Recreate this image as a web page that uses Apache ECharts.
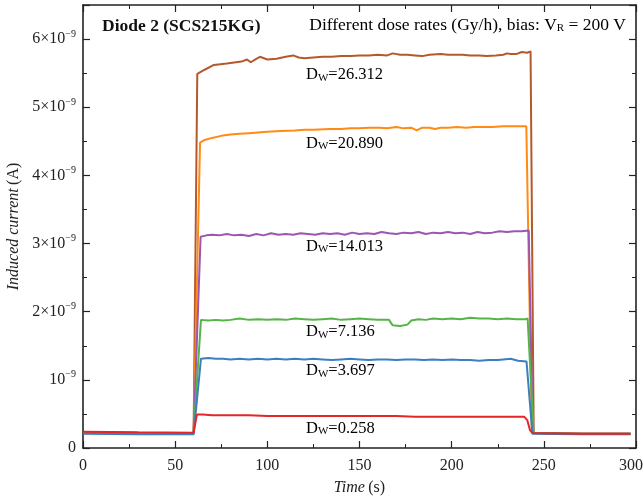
<!DOCTYPE html>
<html>
<head>
<meta charset="utf-8">
<script src="https://cdn.jsdelivr.net/npm/echarts@6/dist/echarts.min.js"></script>
<style>
  html, body { margin: 0; padding: 0; background: #fff; }
  #chart { width: 643px; height: 501px; }
</style>
</head>
<body>
<div id="chart"></div>
<script>
// Induced current (in units of 1e-9 A) versus time (s) for each dose rate D_W (Gy/h)
const doseRates = ['26.312', '20.890', '14.013', '7.136', '3.697', '0.258'];
const colors = ['#b3592b', '#ff8a14', '#9b55b2', '#55b447', '#3c7ec1', '#e4262b'];

const dw26312 = [[0,0.23],[30,0.22],[60,0.22],[62,5.49],[66,5.55],[71,5.62],[78,5.64],[86,5.67],[89,5.70],[91,5.66],[94,5.71],[96,5.74],[100,5.70],[105,5.71],[110,5.74],[114,5.76],[117,5.73],[120,5.72],[125,5.73],[130,5.74],[135,5.74],[140,5.75],[145,5.75],[150,5.76],[155,5.76],[160,5.77],[165,5.76],[168,5.79],[172,5.77],[176,5.77],[180,5.76],[184,5.75],[188,5.77],[194,5.78],[198,5.77],[202,5.77],[206,5.77],[210,5.76],[215,5.76],[219,5.75],[224,5.76],[228,5.77],[230,5.79],[232,5.78],[235,5.78],[238,5.81],[241,5.80],[242.8,5.82],[244.5,0.22],[270,0.21],[297,0.21]];
const dw20890 = [[0,0.23],[30,0.22],[60,0.22],[63.5,4.48],[66,4.52],[70,4.55],[75,4.58],[80,4.60],[85,4.61],[90,4.62],[95,4.63],[100,4.64],[107,4.65],[115,4.66],[120,4.67],[125,4.67],[134,4.68],[140,4.68],[145,4.69],[150,4.69],[155,4.70],[161,4.70],[165,4.69],[170,4.71],[174,4.69],[178,4.70],[181,4.66],[184,4.70],[188,4.70],[191,4.68],[194,4.70],[198,4.70],[203,4.71],[208,4.70],[212,4.71],[216,4.71],[222,4.71],[228,4.72],[234,4.72],[239,4.72],[240.5,4.72],[243.5,0.22],[270,0.21],[297,0.21]];
const dw14013 = [[0,0.23],[30,0.22],[60,0.22],[63.8,3.10],[67,3.12],[70,3.13],[74,3.12],[78,3.14],[82,3.12],[86,3.13],[90,3.11],[94,3.14],[98,3.12],[102,3.15],[106,3.13],[110,3.14],[114,3.13],[118,3.15],[122,3.14],[126,3.13],[130,3.15],[134,3.14],[138,3.15],[142,3.13],[146,3.16],[150,3.14],[154,3.15],[158,3.14],[162,3.17],[166,3.15],[170,3.14],[174,3.16],[178,3.15],[182,3.17],[186,3.14],[190,3.16],[194,3.15],[198,3.17],[202,3.15],[206,3.16],[210,3.14],[214,3.17],[218,3.15],[222,3.16],[226,3.18],[230,3.17],[234,3.18],[238,3.18],[241.8,3.19],[244,0.22],[270,0.21],[297,0.21]];
const dw7136 = [[0,0.22],[30,0.22],[60,0.22],[64,1.88],[68,1.87],[72,1.88],[76,1.87],[80,1.88],[85,1.90],[90,1.88],[95,1.89],[100,1.88],[105,1.89],[110,1.88],[115,1.90],[120,1.89],[125,1.88],[130,1.89],[135,1.90],[140,1.88],[145,1.89],[150,1.90],[155,1.89],[160,1.88],[166,1.88],[168,1.80],[172,1.79],[176,1.81],[178,1.87],[182,1.89],[186,1.88],[190,1.90],[195,1.89],[200,1.90],[205,1.89],[210,1.91],[215,1.90],[220,1.90],[225,1.89],[230,1.90],[235,1.89],[240,1.89],[241.2,1.90],[244.5,0.22],[270,0.21],[297,0.21]];
const dw3697 = [[0,0.21],[30,0.20],[60,0.20],[64,1.31],[68,1.32],[72,1.31],[76,1.31],[80,1.30],[85,1.31],[90,1.30],[95,1.31],[100,1.30],[105,1.31],[110,1.30],[115,1.31],[120,1.30],[125,1.31],[130,1.30],[135,1.29],[140,1.30],[145,1.31],[150,1.30],[155,1.29],[160,1.30],[165,1.30],[170,1.29],[175,1.30],[180,1.30],[185,1.29],[190,1.30],[195,1.29],[200,1.30],[205,1.29],[210,1.29],[215,1.28],[220,1.29],[225,1.29],[228,1.30],[232,1.31],[236,1.28],[240.6,1.27],[243.8,0.21],[270,0.20],[297,0.20]];
const dw0258 = [[0,0.24],[30,0.23],[60,0.225],[61.8,0.49],[65,0.49],[70,0.48],[80,0.48],[90,0.48],[100,0.47],[110,0.47],[120,0.47],[130,0.47],[140,0.47],[150,0.47],[160,0.47],[170,0.47],[180,0.46],[190,0.46],[200,0.46],[210,0.46],[220,0.46],[230,0.46],[237,0.46],[239.3,0.46],[241,0.41],[242.5,0.26],[244,0.22],[270,0.21],[297,0.21]];

const seriesData = [dw26312, dw20890, dw14013, dw7136, dw3697, dw0258];

// y tick labels: n×10^-9
const yTickMantissa = { 1: '', 2: '2×', 3: '3×', 4: '4×', 5: '5×', 6: '6×' };

const FONT = '"Liberation Serif", "DejaVu Serif", serif';

const chart = echarts.init(document.getElementById('chart'), null, { renderer: 'canvas' });

const axisCommon = {
  axisLine: { show: true, onZero: false, lineStyle: { color: '#222', width: 1.6 } },
  axisTick: { show: true, inside: true, length: 7, lineStyle: { color: '#222', width: 1.2 } },
  minorTick: { show: true, splitNumber: 2, length: 4, lineStyle: { color: '#222', width: 1 } },
  splitLine: { show: false }
};

const option = {
  animation: false,
  backgroundColor: '#fff',
  grid: { left: 83, right: 7, top: 5, bottom: 53, containLabel: false, outerBoundsMode: 'none' },
  xAxis: [
    Object.assign({
      type: 'value', min: 0, max: 300, interval: 50, position: 'bottom',
      axisLabel: {
        margin: 10,
        formatter: function (v) { return v === 300 ? '{m|' + v + '}' : '{b|' + v + '}'; },
        rich: {
          b: { fontFamily: FONT, fontSize: 16, color: '#222' },
          m: { fontFamily: FONT, fontSize: 16, color: '#222', padding: [0, 10, 0, 0] }
        }
      },
      name: '{i|Time} {n|(s)}', nameLocation: 'middle', nameGap: 32,
      nameTextStyle: { rich: {
        i: { fontFamily: FONT, fontSize: 16, fontStyle: 'italic', color: '#222' },
        n: { fontFamily: FONT, fontSize: 16, color: '#222' }
      } }
    }, axisCommon),
    Object.assign({
      type: 'value', min: 0, max: 300, interval: 50, position: 'top',
      axisLabel: { show: false }
    }, axisCommon)
  ],
  yAxis: [
    Object.assign({
      type: 'value', min: 0, max: 6.5, interval: 1, position: 'left',
      axisLabel: {
        margin: 7,
        showMaxLabel: false,
        formatter: function (v) {
          if (v === 0) return '{b|0}';
          if (!(v in yTickMantissa)) return '';
          return '{b|' + yTickMantissa[v] + '10}{s|−9}';
        },
        rich: {
          b: { fontFamily: FONT, fontSize: 16, color: '#222' },
          s: { fontFamily: FONT, fontSize: 10, color: '#222', padding: [0, 0, 10, 0] }
        }
      },
      name: '{i|Induced current} {n|(A)}', nameLocation: 'middle', nameGap: 54, nameRotate: 90,
      nameTextStyle: { rich: {
        i: { fontFamily: FONT, fontSize: 16, fontStyle: 'italic', color: '#222' },
        n: { fontFamily: FONT, fontSize: 16, color: '#222' }
      } }
    }, axisCommon),
    Object.assign({
      type: 'value', min: 0, max: 6.5, interval: 1, position: 'right',
      axisLabel: { show: false }
    }, axisCommon)
  ],
  series: seriesData.map(function (d, i) {
    return {
      type: 'line', name: doseRates[i], data: d, showSymbol: false, symbol: 'none',
      xAxisIndex: 0, yAxisIndex: 0, z: 2 + i,
      lineStyle: { color: colors[i], width: 2 }
    };
  }),
  graphic: [
    { type: 'text', left: 102, top: 17, style: { text: 'Diode 2 (SCS215KG)', font: 'bold 17.5px ' + FONT, fill: '#111' } },
    { type: 'text', right: 17, top: 16, style: {
      text: '{t|Different dose rates (Gy/h), bias: V}{r|R}{t| = 200 V}',
      rich: {
        t: { fontFamily: FONT, fontSize: 17.5, color: '#111' },
        r: { fontFamily: FONT, fontSize: 11, color: '#111', padding: [6, 0, 0, 0] }
      }
    } }
  ]
};

chart.setOption(option);

// Dose-rate labels beneath each plateau, anchored on the curve value near t = 121 s
const labelTime = 121;
const labelDrop = [8, 5, 4, 4, 3, 4];
const labelGraphics = seriesData.map(function (d, i) {
  let best = d[0];
  d.forEach(function (p) { if (Math.abs(p[0] - labelTime) < Math.abs(best[0] - labelTime)) best = p; });
  const px = chart.convertToPixel({ xAxisIndex: 0, yAxisIndex: 0 }, [labelTime, best[1]]);
  return {
    type: 'text', x: px[0], y: px[1] + labelDrop[i], z: 100,
    style: {
      text: '{d|D}{w|W}{d|=' + doseRates[i] + '}',
      verticalAlign: 'top',
      rich: {
        d: { fontFamily: FONT, fontSize: 16.5, color: '#111' },
        w: { fontFamily: FONT, fontSize: 11, color: '#111', padding: [6, 0, 0, 0] }
      }
    }
  };
});
chart.setOption({ graphic: option.graphic.concat(labelGraphics) });
</script>
</body>
</html>
